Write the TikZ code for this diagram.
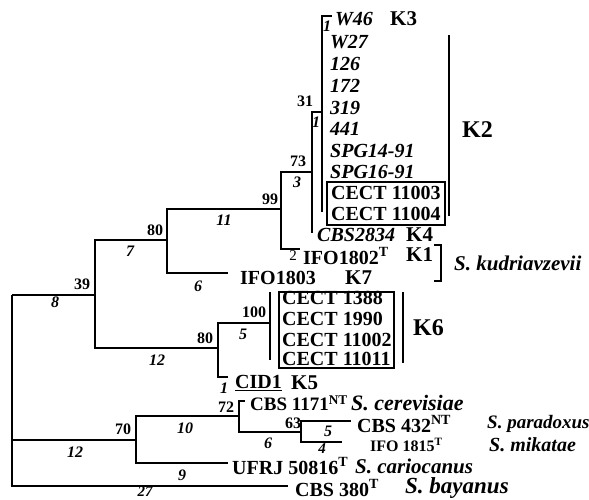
\documentclass[tikz,border=0pt]{standalone}
\usepackage{fontspec}
\setmainfont{Liberation Serif}
\begin{document}
\begin{tikzpicture}[x=1pt,y=-1pt,
  br/.style={line width=1.9pt},
  leaf/.style={anchor=west,inner sep=0pt,font=\fontsize{20}{20}\selectfont\bfseries},
  ileaf/.style={anchor=west,inner sep=0pt,font=\fontsize{20}{20}\selectfont\bfseries\itshape},
  clade/.style={anchor=west,inner sep=0pt,font=\fontsize{21}{21}\selectfont\bfseries},
  spname/.style={anchor=west,inner sep=0pt,font=\fontsize{21}{21}\selectfont\bfseries\itshape},
  bs/.style={inner sep=0pt,font=\fontsize{16}{16}\selectfont\bfseries},
  bl/.style={inner sep=0pt,font=\fontsize{16}{16}\selectfont\bfseries\itshape},
  boxline/.style={line width=1.3pt}]
\useasboundingbox (0,0) rectangle (589,500);
% internal nodes
\coordinate (r) at (12,295);
\coordinate (n39) at (95,295);
\coordinate (n80a) at (167,240);
\coordinate (n99) at (281,209);
\coordinate (n73) at (312,172);
\coordinate (n31) at (322,112);
\coordinate (n80b) at (218,348);
\coordinate (n100) at (270,323);
\coordinate (n70) at (136,440);
\coordinate (n72) at (239,416);
\coordinate (n63) at (301,432);
% leaf ends
\coordinate (eW46) at (332,16);
\coordinate (ePoly) at (322,212);
\coordinate (eCBS2834) at (312,233);
\coordinate (eIFO1802) at (300,249);
\coordinate (eIFO1803) at (228,273);
\coordinate (eCID1) at (228,377);
\coordinate (eCer) at (245,401);
\coordinate (ePar) at (351,421);
\coordinate (eMik) at (342,442);
\coordinate (eUFRJ) at (228,463);
\coordinate (eBay) at (288,486);
\coordinate (k6top) at (270,292);
\coordinate (k6bot) at (270,360);
% branches
\draw[br] (r) |- (n39);
\draw[br] (r) |- (n70);
\draw[br] (r) |- (eBay);
\draw[br] (n39) |- (n80a);
\draw[br] (n39) |- (n80b);
\draw[br] (n80a) |- (n99);
\draw[br] (n80a) |- (eIFO1803);
\draw[br] (n99) |- (n73);
\draw[br] (n99) |- (eIFO1802);
\draw[br] (n73) |- (n31);
\draw[br] (n73) -- (eCBS2834);
\draw[br] (n31) |- (eW46);
\draw[br] (n31) -- (ePoly);
\draw[br] (n80b) |- (n100);
\draw[br] (n80b) |- (eCID1);
\draw[br] (k6top) -- (k6bot);
\draw[br] (n70) |- (n72);
\draw[br] (n70) |- (eUFRJ);
\draw[br] (n72) |- (eCer);
\draw[br] (n72) |- (n63);
\draw[br] (n63) |- (ePar);
\draw[br] (n63) |- (eMik);
% branch support and lengths
\node[bl] (l1a) at (327,26) {1};
\node[bs] (b31) at (305,101) {31};
\node[bl] (l1b) at (316,122) {1};
\node[bs] (b73) at (298,161) {73};
\node[bl] (l3) at (297,182) {3};
\node[bs] (b99) at (270,199) {99};
\node[bl] (l11) at (224,220) {11};
\node[bs] (b80a) at (155,230) {80};
\node[bl] (l7) at (130,251) {7};
\node[bl] (l6a) at (198,286) {6};
\node[bs] (b39) at (82,284) {39};
\node[bl] (l8) at (55,302) {8};
\node[bs] (b80b) at (205,338) {80};
\node[bl] (l12a) at (157,360) {12};
\node[bs] (b100) at (254,312) {100};
\node[bl] (l5a) at (243,334) {5};
\node[bl] (l1c) at (224,388) {1};
\node[bs] (b72) at (226,407) {72};
\node[bl] (l10) at (185,428) {10};
\node[bs] (b63) at (293,423) {63};
\node[bl] (l6b) at (268,443) {6};
\node[bl] (l5b) at (328,431) {5};
\node[bl,font=\fontsize{15}{15}\selectfont\bfseries\itshape] (l4) at (322,449) {4};
\node[bs] (b70) at (123,429) {70};
\node[bl] (l12b) at (75,452) {12};
\node[bl] (l9) at (182,475) {9};
\node[bl,font=\fontsize{15}{15}\selectfont\bfseries\itshape] (l27) at (145,492) {27};
\node[bs,font=\fontsize{15}{15}\selectfont] (l2) at (293,256) {2};
% leaves
\node[ileaf] (tW46) at (335,19) {W46};
\node[clade] (K3) at (390,19) {K3};
\node[ileaf] (tW27) at (330,42) {W27};
\node[ileaf] (t126) at (330,64) {126};
\node[ileaf] (t172) at (330,86) {172};
\node[ileaf] (t319) at (330,108) {319};
\node[ileaf] (t441) at (330,129) {441};
\node[ileaf] (tSPG14) at (330,151) {SPG14-91};
\node[ileaf] (tSPG16) at (330,172) {SPG16-91};
\node[leaf] (tC11003) at (331,193) {CECT 11003};
\node[leaf] (tC11004) at (331,214) {CECT 11004};
\draw[boxline] (327,182) rectangle (445,225);
\draw[br] (449,35) -- (449,216);
\node[clade,font=\fontsize{24}{24}\selectfont\bfseries] (K2) at (462,130) {K2};
\node[ileaf] (tCBS2834) at (317,235) {CBS2834};
\node[clade] (K4) at (406,235) {K4};
\node[leaf] (tIFO1802) at (303,256) {IFO1802\textsuperscript{T}};
\node[clade] (K1) at (406,255) {K1};
\draw[br] (434,245) -- (441,245) -- (441,281) -- (434,281);
\node[spname] (skud) at (454,263) {S. kudriavzevii};
\node[leaf] (tIFO1803) at (240,278) {IFO1803};
\node[clade] (K7) at (345,278) {K7};
\node[leaf] (tC1388) at (282,298) {CECT 1388};
\node[leaf] (tC1990) at (282,319) {CECT 1990};
\node[leaf] (tC11002) at (282,340) {CECT 11002};
\node[leaf] (tC11011) at (282,359) {CECT 11011};
\draw[boxline] (279,292) rectangle (394,368);
\draw[br] (403,292) -- (403,363);
\node[clade,font=\fontsize{24}{24}\selectfont\bfseries] (K6) at (413,328) {K6};
\node[leaf] (tCID1) at (235,383) {\underline{CID1}};
\node[clade] (K5) at (291,383) {K5};
\node[leaf,font=\fontsize{19}{19}\selectfont\bfseries] (tCBS1171) at (250,403) {CBS 1171\textsuperscript{NT}};
\node[spname,font=\fontsize{22}{22}\selectfont\bfseries\itshape] (scer) at (351,403) {S. cerevisiae};
\node[leaf] (tCBS432) at (357,424) {CBS 432\textsuperscript{NT}};
\node[spname,font=\fontsize{19}{19}\selectfont\bfseries\itshape] (spar) at (487,424) {S. paradoxus};
\node[leaf,font=\fontsize{16}{16}\selectfont\bfseries] (tIFO1815) at (370,445) {IFO 1815\textsuperscript{T}};
\node[spname,font=\fontsize{20}{20}\selectfont\bfseries\itshape] (smik) at (489,445) {S. mikatae};
\node[leaf] (tUFRJ) at (232,466) {UFRJ 50816\textsuperscript{T}};
\node[spname] (scar) at (355,466) {S. cariocanus};
\node[leaf] (tCBS380) at (295,488) {CBS 380\textsuperscript{T}};
\node[spname,font=\fontsize{23}{23}\selectfont\bfseries\itshape] (sbay) at (405,488) {S. bayanus};
\end{tikzpicture}
\end{document}
